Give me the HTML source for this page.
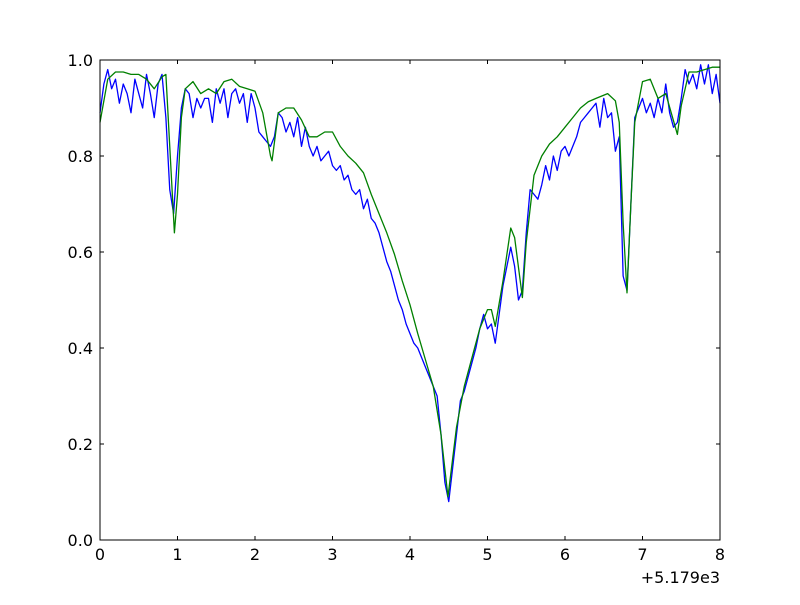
<!DOCTYPE html>
<html><head><meta charset="utf-8"><style>
html,body{margin:0;padding:0;background:#fff;}
svg text{font-family:"DejaVu Sans","Liberation Sans",sans-serif;font-size:16px;fill:#000;}
</style></head><body>
<svg id="chart" width="800" height="600" xmlns="http://www.w3.org/2000/svg">
<rect width="800" height="600" fill="#fff"/>
<g id="ticks"></g>
<g id="lines"></g>
<rect x="100" y="60" width="620" height="480" fill="none" stroke="#000" stroke-width="1"/>
<text x="720" y="583" text-anchor="end">+5.179e3</text>
</svg>
<script>
const xTicks=[0,1,2,3,4,5,6,7,8];
const yTicks=[0.0,0.2,0.4,0.6,0.8,1.0];
const yTickLabels=["0.0","0.2","0.4","0.6","0.8","1.0"];
const greenX=[0,.1,.2,.3,.4,.5,.6,.7,.8,.85,.9,.96,1.0,1.05,1.1,1.2,1.3,1.4,1.5,1.6,1.7,1.8,1.9,2.0,2.1,2.2,2.22,2.3,2.4,2.5,2.6,2.7,2.8,2.9,3.0,3.1,3.2,3.3,3.4,3.5,3.6,3.7,3.8,3.9,4.0,4.1,4.2,4.3,4.4,4.49,4.6,4.7,4.8,4.9,5.0,5.05,5.1,5.2,5.3,5.35,5.45,5.5,5.6,5.7,5.8,5.9,6.0,6.1,6.2,6.3,6.4,6.55,6.65,6.7,6.75,6.8,6.85,6.9,7.0,7.1,7.2,7.3,7.45,7.5,7.6,7.7,7.8,7.9,8.0];
const greenY=[.87,.96,.975,.975,.97,.97,.96,.94,.965,.97,.82,.64,.72,.88,.94,.955,.93,.94,.93,.955,.96,.945,.94,.935,.89,.80,.79,.89,.90,.90,.875,.84,.84,.85,.85,.82,.80,.785,.765,.72,.68,.64,.595,.54,.49,.43,.375,.32,.22,.09,.235,.32,.38,.44,.48,.48,.445,.54,.65,.63,.505,.62,.76,.80,.825,.84,.86,.88,.90,.913,.92,.93,.915,.87,.66,.515,.70,.87,.955,.96,.92,.93,.845,.905,.975,.975,.98,.985,.985];
const blueStep=0.05;
const blueY=[.89,.95,.98,.94,.96,.91,.95,.93,.89,.96,.93,.90,.97,.93,.88,.95,.97,.88,.73,.68,.80,.90,.94,.93,.88,.92,.90,.92,.92,.87,.94,.91,.94,.88,.93,.94,.91,.93,.87,.93,.90,.85,.84,.83,.82,.84,.89,.88,.85,.87,.84,.88,.82,.86,.82,.80,.82,.79,.80,.81,.78,.77,.78,.75,.76,.73,.72,.73,.69,.71,.67,.66,.64,.61,.58,.56,.53,.50,.48,.45,.43,.41,.40,.38,.36,.34,.32,.30,.22,.12,.08,.15,.22,.29,.31,.34,.37,.40,.44,.47,.44,.45,.41,.47,.53,.57,.61,.57,.50,.52,.64,.73,.72,.71,.74,.78,.75,.80,.77,.81,.82,.80,.82,.84,.87,.88,.89,.90,.91,.86,.92,.88,.89,.81,.84,.55,.52,.70,.88,.90,.92,.89,.91,.88,.92,.89,.95,.89,.86,.87,.92,.98,.95,.97,.94,.99,.95,.99,.93,.97,.91];
const NS="http://www.w3.org/2000/svg";
const sx=v=>100+v*620/8, sy=v=>540-v*480;
const tg=document.getElementById('ticks'), lg=document.getElementById('lines');
function mk(t,a,p){const e=document.createElementNS(NS,t);for(const k in a)e.setAttribute(k,a[k]);p.appendChild(e);return e;}
xTicks.forEach(v=>{const x=sx(v);
 let t=mk('line',{x1:x,y1:540,x2:x,y2:536,stroke:'#000'},tg);
 
 
 t=mk('line',{x1:x,y1:60,x2:x,y2:64,stroke:'#000'},tg);
 
 
 const l=mk('text',{x:x,y:560,'text-anchor':'middle'},tg);l.textContent=String(v);
 
 
});
yTicks.forEach((v,i)=>{const y=sy(v);
 let t=mk('line',{x1:100,y1:y,x2:104,y2:y,stroke:'#000'},tg);
 
 
 t=mk('line',{x1:720,y1:y,x2:716,y2:y,stroke:'#000'},tg);
 
 
 const l=mk('text',{x:93,y:y+6,'text-anchor':'end'},tg);l.textContent=yTickLabels[i];
 
 
});
const bp=blueY.map((v,i)=>sx(i*blueStep).toFixed(2)+','+sy(v).toFixed(2)).join(' ');
const b=mk('polyline',{points:bp,fill:'none',stroke:'#0000ff','stroke-width':1.3,'stroke-linejoin':'round'},lg);


const gp=greenY.map((v,i)=>sx(greenX[i]).toFixed(2)+','+sy(v).toFixed(2)).join(' ');
const g=mk('polyline',{points:gp,fill:'none',stroke:'#008000','stroke-width':1.3,'stroke-linejoin':'round'},lg);


</script>
</body></html>
